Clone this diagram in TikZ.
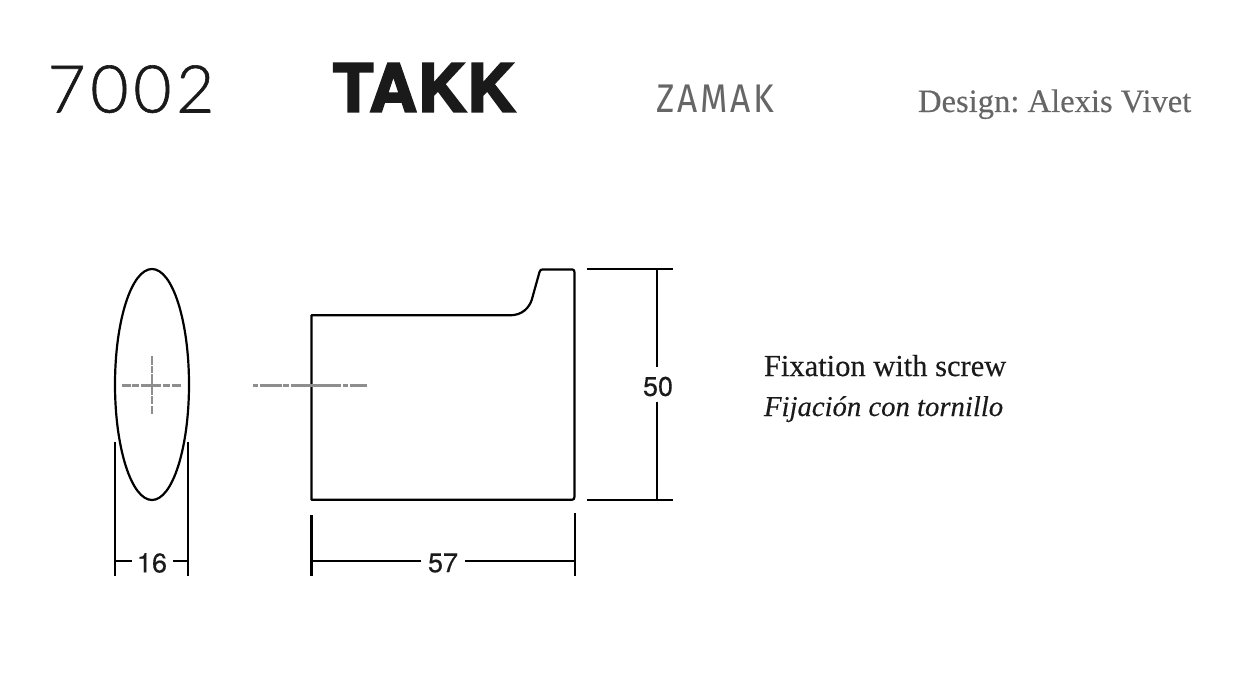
\documentclass[tikz,border=0pt]{standalone}
\usepackage{fontspec}
\setmainfont[FakeBold=0.25]{Liberation Serif}
\newfontfamily\lightf[LetterSpace=7,FakeBold=0.9]{Lato Light}
\newfontfamily\heavyf[FakeBold=3.2,LetterSpace=2.3]{TeX Gyre Heros Bold}
\newfontfamily\humanf[LetterSpace=7,FakeStretch=0.88]{Fira Sans}
\newfontfamily\dimf[FakeBold=0.3]{TeX Gyre Heros}
\definecolor{ink}{HTML}{1A1A1A}
\definecolor{greytext}{HTML}{666666}
\definecolor{axis}{HTML}{8E8E8E}
\tikzset{
  outline/.style={draw=black,line width=2.2pt,line join=round},
  dimline/.style={draw=black,line width=2.1pt},
  axisline/.style={draw=axis,line width=2.4pt},
  txt/.style={inner sep=0pt,outer sep=0pt,anchor=base west},
  dimtxt/.style={inner sep=0pt,outer sep=0pt,anchor=center,text=ink,font=\dimf\fontsize{27}{27}\selectfont}
}
\begin{document}
\begin{tikzpicture}[x=1pt,y=-1pt]
\useasboundingbox (0,0) rectangle (1236,690);
\fill[white] (0,0) rectangle (1236,690);
\node[txt,text=ink,font=\lightf\fontsize{66}{66}\selectfont] (code) at (47.5,112.5) {7002};
\node[txt,text=ink,font=\heavyf\fontsize{66}{66}\selectfont] (name) at (333,111.5) {TAKK};
\node[txt,text=greytext,font=\humanf\fontsize{40}{40}\selectfont] (material) at (656,113) {ZAMAK};
\node[txt,text=greytext,font=\fontsize{32.6}{32.6}\selectfont] (designer) at (918,112) {\frenchspacing Design: Alexis Vivet};
\node[txt,text=ink,font=\fontsize{30.5}{30.5}\selectfont] (fix) at (764,376) {Fixation with screw};
\node[txt,text=ink,font=\itshape\fontsize{28.7}{28.7}\selectfont] (fij) at (764,416) {Fijación con tornillo};
% front view
\draw[outline] (152,384.5) ellipse [x radius=37, y radius=115.5];
\draw[axisline,dash pattern=on 8.5pt off 1.4pt on 7.5pt off 1.4pt on 20.5pt off 1.4pt on 7.5pt off 1.4pt on 9pt] (122,385.5) -- (182,385.5);
\draw[axisline,dash pattern=on 9pt off 1.4pt on 6.5pt off 1.4pt on 20.5pt off 1.6pt on 8pt off 1.4pt on 8pt] (152,356) -- (152,415);
% side view
\draw[outline] (311.5,499.7) -- (311.5,315.3) -- (510,315.3)
  .. controls (522,315.3) and (529,308) .. (531.7,300)
  -- (539.5,272) .. controls (540,270) and (541,269.4) .. (543,269.4)
  -- (572,269.4) .. controls (573.6,269.4) and (574.4,270.2) .. (574.4,272)
  -- (574.4,497) .. controls (574.4,499) and (573.6,499.7) .. (572,499.7) -- cycle;
\draw[axisline,dash pattern=on 5.3pt off 1.8pt on 21.5pt off 1.8pt on 5.3pt off 1.8pt on 50.5pt off 1.8pt on 5.3pt off 1.8pt on 17pt] (253,385.5) -- (369,385.5);
% width dimension 16
\node[dimtxt] (d16) at (152,563) {16};
\coordinate (a1) at (114.8,561); \coordinate (a2) at (188.3,561);
\draw[dimline] (114.8,441.7) -- (114.8,576);
\draw[dimline] (188.3,441.7) -- (188.3,576);
\draw[dimline] (a1) -- (132,561);
\draw[dimline] (173.3,561) -- (a2);
% width dimension 57
\node[dimtxt] (d57) at (443,563) {57};
\coordinate (b1) at (311.5,561); \coordinate (b2) at (574.7,561);
\draw[dimline] (311.5,515) -- (311.5,576);
\draw[dimline] (574.7,513) -- (574.7,576);
\draw[dimline] (b1) -- (421,561);
\draw[dimline] (465,561) -- (b2);
% height dimension 50
\node[dimtxt] (d50) at (658,386.5) {50};
\coordinate (c1) at (657.3,269.4); \coordinate (c2) at (657.3,500);
\draw[dimline] (586.8,269.4) -- (672.7,269.4);
\draw[dimline] (587.3,500) -- (672.7,500);
\draw[dimline] (c1) -- (657.3,367);
\draw[dimline] (657.3,401.7) -- (c2);
\end{tikzpicture}
\end{document}
